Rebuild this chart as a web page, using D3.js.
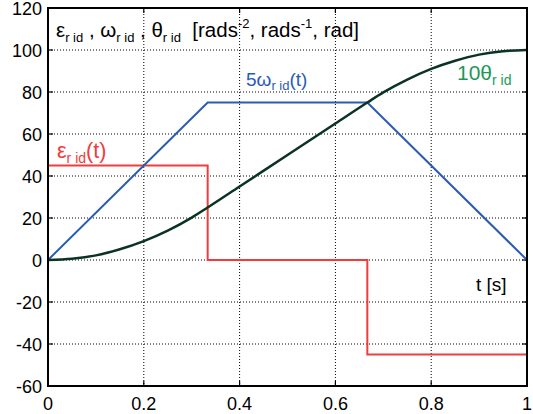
<!DOCTYPE html>
<meta charset="utf-8">
<style>
body { margin: 0; background: #fff; }
text { font-family: "Liberation Sans", Arial, sans-serif; }
.grid line { stroke: #000; stroke-width: 1; stroke-dasharray: 1,2; }
</style>
<body>
<svg width="533" height="414"></svg>
<script src="https://cdnjs.cloudflare.com/ajax/libs/d3/7.8.5/d3.min.js"></script>
<script>

// values
var xTicks = [0, 0.2, 0.4, 0.6, 0.8, 1]
var yTicks = [-60, -40, -20, 0, 20, 40, 60, 80, 100, 120]

// eps_r_id(t)  (step profile)
var epsT = [0, 0, 1/3, 1/3, 2/3, 2/3, 1, 1]
var epsV = [0, 45, 45, 0, 0, -45, -45, 0]

// 5*omega_r_id(t)
var omT = [0, 1/3, 2/3, 1]
var omV = [0, 75, 75, 0]

// 10*theta_r_id(t)
var thT = [0, 0.05, 0.1, 0.15, 0.2, 0.25, 0.3, 1/3, 0.4, 0.5, 0.6, 2/3, 0.7, 0.75, 0.8, 0.85, 0.9, 0.95, 1]
var thV = [0, 0.6, 2.2, 5.1, 9, 14, 20.2, 25, 35, 50, 65, 75, 79.8, 85.9, 91, 94.9, 97.8, 99.4, 100]

var svg = d3.select("svg")
var L = 48, R = 527, T = 8, B = 386

var x = d3.scaleLinear().domain([0, 1]).range([L, R])
var y = d3.scaleLinear().domain([-60, 120]).range([B, T])

// grid
var grid = svg.append("g").attr("class", "grid")
grid.selectAll(".gx").data(xTicks.slice(1, -1)).enter().append("line")
    .attr("x1", d => x(d)).attr("x2", d => x(d)).attr("y1", T).attr("y2", B)
grid.selectAll(".gy").data(yTicks.slice(1, -1)).enter().append("line")
    .attr("y1", d => y(d)).attr("y2", d => y(d)).attr("x1", L).attr("x2", R)

// ticks on all sides (inward)
var tk = svg.append("g").attr("stroke", "#000").attr("stroke-width", 1.2)
xTicks.forEach(function(d){
  tk.append("line").attr("x1", x(d)).attr("x2", x(d)).attr("y1", B).attr("y2", B - 5)
  tk.append("line").attr("x1", x(d)).attr("x2", x(d)).attr("y1", T).attr("y2", T + 5)
})
yTicks.forEach(function(d){
  tk.append("line").attr("x1", L).attr("x2", L + 5).attr("y1", y(d)).attr("y2", y(d))
  tk.append("line").attr("x1", R).attr("x2", R - 5).attr("y1", y(d)).attr("y2", y(d))
})

// tick labels
svg.append("g").selectAll("text").data(xTicks).enter().append("text")
    .attr("x", d => x(d)).attr("y", 410).attr("text-anchor", "middle")
    .attr("font-size", 18).text(d => d)
svg.append("g").selectAll("text").data(yTicks).enter().append("text")
    .attr("x", 42).attr("y", d => y(d) + 6.5).attr("text-anchor", "end")
    .attr("font-size", 18).text(d => d)

// curves
var line = d3.line().x(d => x(d[0])).y(d => y(d[1]))

svg.append("path").datum(d3.zip(epsT, epsV))
    .attr("d", line).attr("fill", "none").attr("stroke", "#f03c3c").attr("stroke-width", 2)

svg.append("path").datum(d3.zip(omT, omV))
    .attr("d", line).attr("fill", "none").attr("stroke", "#2a5cb4").attr("stroke-width", 2)

svg.append("path").datum(d3.zip(thT, thV))
    .attr("d", line.curve(d3.curveMonotoneX)).attr("fill", "none").attr("stroke", "#0a3322").attr("stroke-width", 2.5)

// frame
svg.append("rect").attr("x", L).attr("y", T).attr("width", R - L).attr("height", B - T)
    .attr("fill", "none").attr("stroke", "#000").attr("stroke-width", 2)

// labels
function sublabel(px, py, parts, color, fs, ss){
  var t = svg.append("text").attr("x", px).attr("y", py).attr("font-size", fs).attr("fill", color)
  var down = Math.round(fs * 0.22), up = Math.round(fs * 0.42)
  parts.forEach(function(p){
    var s = t.append("tspan").text(p.t)
    if (p.sub) s.attr("font-size", ss).attr("dy", down)
    else if (p.sup) s.attr("font-size", ss).attr("dy", -up)
    else if (p.fromSub) s.attr("dy", -down)
    else if (p.fromSup) s.attr("dy", up)
  })
  return t
}

sublabel(56, 37, [{t: "ε"}, {t: "r id", sub: 1}, {t: " , ω", fromSub: 1}, {t: "r id", sub: 1},
  {t: " , θ", fromSub: 1}, {t: "r id", sub: 1}, {t: "\u00a0 [rads", fromSub: 1}, {t: "-2", sup: 1},
  {t: ", rads", fromSup: 1}, {t: "-1", sup: 1}, {t: ", rad]", fromSup: 1}], "#000", 20.5, 13)

sublabel(246, 86, [{t: "5ω"}, {t: "r id", sub: 1}, {t: "(t)", fromSub: 1}], "#2a5cb4", 19, 13)
sublabel(57, 158, [{t: "ε"}, {t: "r id", sub: 1}, {t: "(t)", fromSub: 1}], "#f03c3c", 21.5, 14)
sublabel(457, 80, [{t: "10θ"}, {t: "r id", sub: 1}], "#1a9a58", 21, 14)

svg.append("text").attr("x", 476).attr("y", 291).attr("font-size", 19).text("t [s]")

</script>
</body>
